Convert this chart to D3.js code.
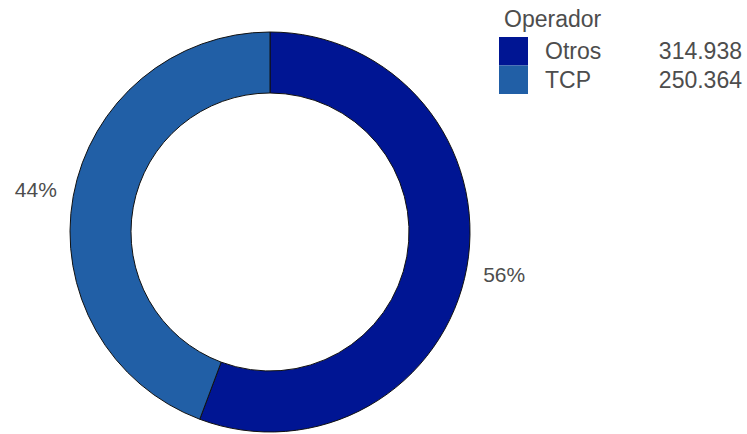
<!DOCTYPE html>
<html>
<head>
<meta charset="utf-8">
<script src="https://cdn.jsdelivr.net/npm/d3@7"></script>
<style>
  body { margin: 0; background: #fff; }
  text { font-family: "Liberation Sans", Arial, sans-serif; }
</style>
</head>
<body>
<div id="chart"></div>
<script>
var categories = ["Otros", "TCP"];
var values = [314.938, 250.364];
var valueLabels = ["314.938", "250.364"];
var colors = ["#001593", "#215fa6"];
var legendTitle = "Operador";

var width = 747, height = 434;
var cx = 270, cy = 232;
var outerR = 200, innerR = 139;

var svg = d3.select("#chart").append("svg")
            .attr("width", width)
            .attr("height", height);

var data = categories.map(function(c, i){ return {name: c, value: values[i], color: colors[i]}; });
var total = d3.sum(values);

var pie = d3.pie().sort(null).value(function(d){ return d.value; });
var arc = d3.arc().innerRadius(innerR).outerRadius(outerR);
var labelArc = d3.arc().innerRadius(238).outerRadius(238);

var g = svg.append("g").attr("transform", "translate(" + cx + "," + cy + ")");

g.selectAll("path.slice")
  .data(pie(data))
  .enter().append("path")
  .attr("class", "slice")
  .attr("d", arc)
  .attr("fill", function(d){ return d.data.color; })
  .attr("stroke", "#111")
  .attr("stroke-width", 1);

g.selectAll("text.pct")
  .data(pie(data))
  .enter().append("text")
  .attr("class", "pct")
  .attr("transform", function(d){ return "translate(" + labelArc.centroid(d) + ")"; })
  .attr("text-anchor", "middle")
  .attr("dy", "0.35em")
  .attr("font-size", 21)
  .attr("fill", "#4d4d4d")
  .text(function(d){ return Math.round(d.data.value / total * 100) + "%"; });

// legend
var legend = svg.append("g").attr("transform", "translate(499,0)");
legend.append("text")
  .attr("x", 5).attr("y", 27)
  .attr("font-size", 23)
  .attr("fill", "#4d4d4d")
  .text(legendTitle);

var rows = legend.selectAll("g.row")
  .data(data)
  .enter().append("g")
  .attr("class", "row")
  .attr("transform", function(d, i){ return "translate(0," + (37 + i * 28.5) + ")"; });

rows.append("rect")
  .attr("width", 29).attr("height", 28.5)
  .attr("fill", function(d){ return d.color; });

rows.append("text")
  .attr("x", 46).attr("y", 22)
  .attr("font-size", 23)
  .attr("fill", "#4d4d4d")
  .text(function(d){ return d.name; });

rows.append("text")
  .attr("x", 243).attr("y", 22)
  .attr("text-anchor", "end")
  .attr("font-size", 23)
  .attr("fill", "#4d4d4d")
  .text(function(d, i){ return valueLabels[i]; });
</script>
</body>
</html>
